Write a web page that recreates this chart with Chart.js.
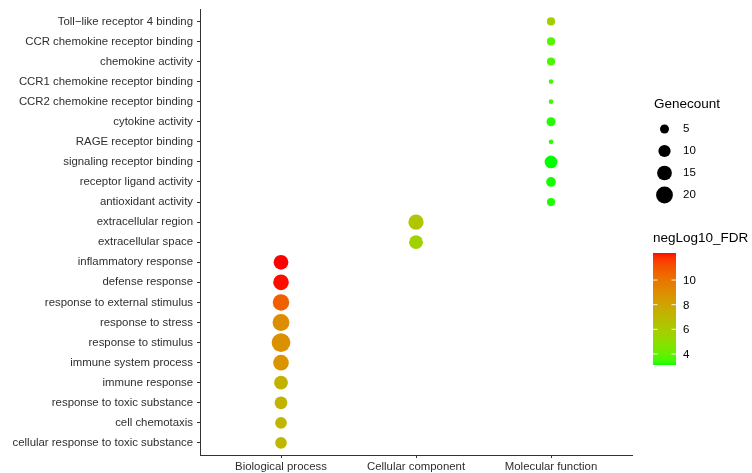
<!DOCTYPE html>
<html>
<head>
<meta charset="utf-8">
<script src="https://cdn.jsdelivr.net/npm/chart.js@4.4.1/dist/chart.umd.min.js"></script>
<style>
  html, body { margin: 0; padding: 0; background: #ffffff; }
  #wrap { width: 752px; height: 473px; }
</style>
</head>
<body>
<div id="wrap"><canvas id="c" width="752" height="473"></canvas></div>
<script>
// GO enrichment terms, grouped by ontology
const categories = ['Biological process', 'Cellular component', 'Molecular function'];

const terms = [
  'Toll\u2212like receptor 4 binding',
  'CCR chemokine receptor binding',
  'chemokine activity',
  'CCR1 chemokine receptor binding',
  'CCR2 chemokine receptor binding',
  'cytokine activity',
  'RAGE receptor binding',
  'signaling receptor binding',
  'receptor ligand activity',
  'antioxidant activity',
  'extracellular region',
  'extracellular space',
  'inflammatory response',
  'defense response',
  'response to external stimulus',
  'response to stress',
  'response to stimulus',
  'immune system process',
  'immune response',
  'response to toxic substance',
  'cell chemotaxis',
  'cellular response to toxic substance'
];

const termCategory = [
  'Molecular function', 'Molecular function', 'Molecular function', 'Molecular function',
  'Molecular function', 'Molecular function', 'Molecular function', 'Molecular function',
  'Molecular function', 'Molecular function',
  'Cellular component', 'Cellular component',
  'Biological process', 'Biological process', 'Biological process', 'Biological process',
  'Biological process', 'Biological process', 'Biological process', 'Biological process',
  'Biological process', 'Biological process'
];

const geneCount = [4, 4, 4, 1, 1, 5, 1, 11, 6, 4, 16, 13, 15, 17, 19, 20, 25, 17, 13, 11, 9, 9];

const negLog10FDR = [5.8, 3.7, 3.6, 3.5, 3.5, 3.2, 3.3, 3.1, 3.15, 3.2, 6.3, 5.7,
                     12.2, 12.15, 10.7, 9.0, 8.9, 8.7, 7.3, 7.2, 7.1, 7.1];

const sizeBreaks = [5, 10, 15, 20];
const colorBreaks = [4, 6, 8, 10];

const FONT = '"Liberation Sans", Arial, Helvetica, sans-serif';

// point diameter grows with the square root of the gene count
function radiusFor(n) {
  return (1.17 + 3.5 * Math.sqrt(n)) / 2;
}

// ---- green -> red gradient interpolated in CIE Lab ----
function srgbToLin(c) { c /= 255; return c <= 0.04045 ? c / 12.92 : Math.pow((c + 0.055) / 1.055, 2.4); }
function linToSrgb(c) { const v = c <= 0.0031308 ? 12.92 * c : 1.055 * Math.pow(c, 1 / 2.4) - 0.055; return Math.max(0, Math.min(255, Math.round(v * 255))); }
const WX = 0.95047, WY = 1.0, WZ = 1.08883;
function fLab(t) { return t > 216 / 24389 ? Math.cbrt(t) : (24389 / 27 * t + 16) / 116; }
function fInv(t) { const t3 = t * t * t; return t3 > 216 / 24389 ? t3 : (116 * t - 16) / (24389 / 27); }
function rgbToLab(r, g, b) {
  const R = srgbToLin(r), G = srgbToLin(g), B = srgbToLin(b);
  const X = 0.4124564 * R + 0.3575761 * G + 0.1804375 * B;
  const Y = 0.2126729 * R + 0.7151522 * G + 0.0721750 * B;
  const Z = 0.0193339 * R + 0.1191920 * G + 0.9503041 * B;
  const fx = fLab(X / WX), fy = fLab(Y / WY), fz = fLab(Z / WZ);
  return [116 * fy - 16, 500 * (fx - fy), 200 * (fy - fz)];
}
function labToRgb(L, a, b) {
  const fy = (L + 16) / 116, fx = fy + a / 500, fz = fy - b / 200;
  const X = fInv(fx) * WX, Y = fInv(fy) * WY, Z = fInv(fz) * WZ;
  const R = 3.2404542 * X - 1.5371385 * Y - 0.4985314 * Z;
  const G = -0.9692660 * X + 1.8760108 * Y + 0.0415560 * Z;
  const B = 0.0556434 * X - 0.2040259 * Y + 1.0572252 * Z;
  return [linToSrgb(R), linToSrgb(G), linToSrgb(B)];
}
const LOW = rgbToLab(0, 255, 0), HIGH = rgbToLab(255, 0, 0);
const fdrMin = Math.min(...negLog10FDR), fdrMax = Math.max(...negLog10FDR);
function colorFor(v) {
  const t = Math.max(0, Math.min(1, (v - fdrMin) / (fdrMax - fdrMin)));
  const L = LOW[0] + (HIGH[0] - LOW[0]) * t;
  const A = LOW[1] + (HIGH[1] - LOW[1]) * t;
  const B = LOW[2] + (HIGH[2] - LOW[2]) * t;
  const c = labToRgb(L, A, B);
  return 'rgb(' + c[0] + ',' + c[1] + ',' + c[2] + ')';
}

const points = terms.map((t, i) => ({
  x: categories.indexOf(termCategory[i]) + 1,
  y: i + 1,
  r: radiusFor(geneCount[i])
}));
const pointColors = negLog10FDR.map(colorFor);

// size and colour guides on the right
const guidePlugin = {
  id: 'guides',
  afterDraw(chart) {
    const ctx = chart.ctx;
    ctx.save();
    ctx.textBaseline = 'middle';
    ctx.textAlign = 'left';

    // Genecount
    ctx.fillStyle = '#000';
    ctx.font = '13.5px ' + FONT;
    ctx.fillText('Genecount', 654, 104);
    const sizeY = [129, 151, 173, 195];
    ctx.font = '11.5px ' + FONT;
    sizeBreaks.forEach((b, i) => {
      ctx.beginPath();
      ctx.arc(664.5, sizeY[i], radiusFor(b), 0, Math.PI * 2);
      ctx.fillStyle = '#000';
      ctx.fill();
      ctx.fillText(String(b), 683, sizeY[i]);
    });

    // negLog10_FDR colour bar
    ctx.font = '13.5px ' + FONT;
    ctx.fillText('negLog10_FDR', 653, 238);
    const bx = 653, bw = 23, top = 253, bottom = 365;
    const h = bottom - top;
    for (let y = top; y < bottom; y++) {
      const v = fdrMax - ((y + 0.5 - top) / h) * (fdrMax - fdrMin);
      ctx.fillStyle = colorFor(v);
      ctx.fillRect(bx, y, bw, 1);
    }
    ctx.font = '11.5px ' + FONT;
    colorBreaks.forEach(b => {
      const y = top + (fdrMax - b) / (fdrMax - fdrMin) * h;
      ctx.strokeStyle = 'rgba(255,255,255,0.9)';
      ctx.lineWidth = 1;
      ctx.beginPath();
      ctx.moveTo(bx, y); ctx.lineTo(bx + 4.5, y);
      ctx.moveTo(bx + bw - 4.5, y); ctx.lineTo(bx + bw, y);
      ctx.stroke();
      ctx.fillStyle = '#000';
      ctx.fillText(String(b), 683, y + 1);
    });
    ctx.restore();
  }
};

new Chart(document.getElementById('c'), {
  type: 'bubble',
  data: {
    datasets: [{
      data: points,
      backgroundColor: pointColors,
      borderWidth: 0,
      hoverRadius: 0
    }]
  },
  options: {
    responsive: false,
    animation: false,
    events: [],
    devicePixelRatio: 1,
    layout: { padding: { left: 0, right: 120, top: 6, bottom: 0 } },
    plugins: { legend: { display: false }, tooltip: { enabled: false } },
    scales: {
      x: {
        type: 'linear',
        min: 0.4,
        max: 3.6,
        afterBuildTicks: s => { s.ticks = categories.map((c, i) => ({ value: i + 1 })); },
        afterFit: s => { s.height = 18; s.paddingLeft = 0; s.paddingRight = 0; },
        ticks: {
          autoSkip: false,
          maxRotation: 0,
          padding: 2,
          color: '#2e2e2e',
          font: { family: FONT, size: 11.4 },
          callback: v => categories[v - 1]
        },
        grid: { drawOnChartArea: false, drawTicks: true, tickLength: 3, color: '#333' },
        border: { display: true, color: '#333', width: 1 }
      },
      y: {
        type: 'linear',
        reverse: true,
        min: 0.4,
        max: 22.6,
        afterBuildTicks: s => { s.ticks = terms.map((t, i) => ({ value: i + 1 })); },
        afterFit: s => { s.width = 200; s.paddingTop = 0; s.paddingBottom = 0; },
        ticks: {
          autoSkip: false,
          padding: 4,
          color: '#2e2e2e',
          font: { family: FONT, size: 11.4 },
          callback: v => terms[v - 1]
        },
        grid: { drawOnChartArea: false, drawTicks: true, tickLength: 3, color: '#333' },
        border: { display: true, color: '#333', width: 1 }
      }
    }
  },
  plugins: [guidePlugin]
});
</script>
</body>
</html>
